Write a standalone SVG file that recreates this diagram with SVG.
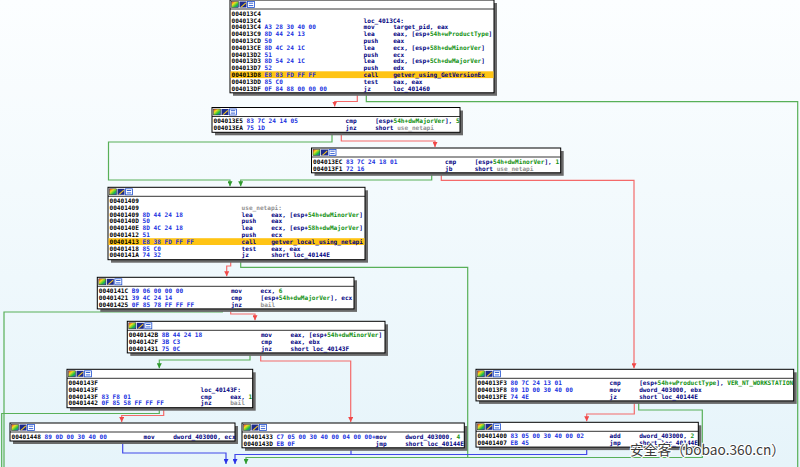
<svg xmlns="http://www.w3.org/2000/svg" width="800" height="467" viewBox="0 0 800 467">
<defs>
<linearGradient id="bg" x1="0" y1="0" x2="0" y2="1"><stop offset="0" stop-color="#FCFEFF"/><stop offset="1" stop-color="#E6F4FA"/></linearGradient>
<linearGradient id="rain" x1="0" y1="0" x2="1" y2="1"><stop offset="0" stop-color="#ff2020"/><stop offset="0.33" stop-color="#f0e020"/><stop offset="0.66" stop-color="#20c040"/><stop offset="1" stop-color="#2040ff"/></linearGradient>
<marker id="aR" viewBox="0 0 6 6" refX="6" refY="3" markerWidth="5" markerHeight="5" markerUnits="userSpaceOnUse" orient="auto"><path d="M0,0L6,3L0,6z" fill="#F04848"/></marker>
<marker id="aG" viewBox="0 0 6 6" refX="6" refY="3" markerWidth="5" markerHeight="5" markerUnits="userSpaceOnUse" orient="auto"><path d="M0,0L6,3L0,6z" fill="#2E9A2E"/></marker>
<marker id="aB" viewBox="0 0 6 6" refX="6" refY="3" markerWidth="5" markerHeight="5" markerUnits="userSpaceOnUse" orient="auto"><path d="M0,0L6,3L0,6z" fill="#2830E8"/></marker>
<g id="icons">
<rect x="1.5" y="1.5" width="7" height="6" fill="url(#rain)" stroke="#222" stroke-width="0.5"/>
<rect x="9.5" y="1.5" width="7" height="6" fill="#1c2a8a"/>
<path d="M10.5,7 L15.5,2.5 L16,3.5 L11.5,7.5z" fill="#f4c820"/>
<rect x="17.5" y="1.5" width="7" height="6" fill="#ffffff" stroke="#2050d0" stroke-width="0.8"/>
<path d="M18.8,3.2h4.4M18.8,5.6h4.4" stroke="#2050d0" stroke-width="0.9"/>
</g>
</defs>
<style>
.box{fill:#fff;stroke:#000;stroke-width:1}
.sh{fill:#6a6a6a}
.sep{stroke:#000;stroke-width:0.8}
.hl{fill:#FFC414}
text{font-family:"DejaVu Sans Mono","Liberation Mono",monospace;font-size:6.1px;font-weight:bold;fill:#000080}
.a{fill:#000}
.b{fill:#1830E0}
.g{fill:#109010}
.y{fill:#909090}
.e{fill:none;stroke-width:1.2}
.r{stroke:#F46A6A}
.gr{stroke:#58B058}
.bl{stroke:#4048E8}
.wm{font-family:"Noto Sans CJK SC","Noto Sans",sans-serif;font-size:14px;font-weight:normal;fill:#3c3c3c;stroke:#ffffff;stroke-width:2;paint-order:stroke}
</style>
<rect width="800" height="467" fill="url(#bg)"/>

<g id="edges">
<path class="e r" d="M357.3,93.8V101.5H334.7V106.5" marker-end="url(#aR)"/>
<path class="e gr" d="M366.3,93.8V101.7H797.7V467"/>
<path class="e r" d="M341.3,133V141H435V147" marker-end="url(#aR)"/>
<path class="e gr" d="M332,133V142H108.5V180H230V186.3" marker-end="url(#aG)"/>
<path class="e gr" d="M431.7,173.5V180H240.7V186.3" marker-end="url(#aG)"/>
<path class="e r" d="M441.3,173.5V180.3H634V368.3" marker-end="url(#aR)"/>
<path class="e r" d="M230.7,260.5V266H226.7V276.3" marker-end="url(#aR)"/>
<path class="e gr" d="M240.7,260.5V267.3H467.7V457.5"/>
<path class="e r" d="M230.7,309V314H255V320.3" marker-end="url(#aR)"/>
<path class="e gr" d="M222.3,309V312H4V467"/>
<path class="e r" d="M260.7,353V361H350.7V422" marker-end="url(#aR)"/>
<path class="e gr" d="M250,353V360H159.3V368.3" marker-end="url(#aG)"/>
<path class="e gr" d="M159.3,407.7V413.5H1.7V467"/>
<path class="e r" d="M163.7,407.7V415.5H121.7V422" marker-end="url(#aR)"/>
<path class="e r" d="M634.3,401V414H586.7V421.3" marker-end="url(#aR)"/>
<path class="e gr" d="M638.7,401V410H702.3V457.5H246V464" marker-end="url(#aG)"/>
<path class="e bl" d="M122.7,441V453H226V464" marker-end="url(#aB)"/>
<path class="e bl" d="M351,448V454.5"/>
<path class="e bl" d="M586.7,447V454.5H235V464" marker-end="url(#aB)"/>
</g>

<g id="blkA" transform="translate(230,0)">
<rect class="sh" x="3" y="3" width="264" height="92.8"/>
<rect class="box" x="0" y="0" width="264" height="92.8"/>
<use href="#icons"/>
<line class="sep" x1="0" y1="9" x2="264" y2="9"/>
<rect class="hl" x="0.5" y="71.3" width="263" height="6.8"/>
<text x="1.5" y="15.7" class="a">004013C4</text>
<text x="1.5" y="22.5"><tspan class="a">004013C4</tspan><tspan x="133.6">loc_4013C4:</tspan></text>
<text x="1.5" y="29.3"><tspan class="a">004013C4</tspan><tspan x="34.5" class="b">A3 28 30 40 00</tspan><tspan x="133.6">mov</tspan><tspan x="163.2">target_pid, eax</tspan></text>
<text x="1.5" y="36.1"><tspan class="a">004013C9</tspan><tspan x="34.5" class="b">8D 44 24 13</tspan><tspan x="133.6">lea</tspan><tspan x="163.2">eax, [esp+<tspan class="g">54h+wProductType</tspan>]</tspan></text>
<text x="1.5" y="42.9"><tspan class="a">004013CD</tspan><tspan x="34.5" class="b">50</tspan><tspan x="133.6">push</tspan><tspan x="163.2">eax</tspan></text>
<text x="1.5" y="49.7"><tspan class="a">004013CE</tspan><tspan x="34.5" class="b">8D 4C 24 1C</tspan><tspan x="133.6">lea</tspan><tspan x="163.2">ecx, [esp+<tspan class="g">58h+dwMinorVer</tspan>]</tspan></text>
<text x="1.5" y="56.5"><tspan class="a">004013D2</tspan><tspan x="34.5" class="b">51</tspan><tspan x="133.6">push</tspan><tspan x="163.2">ecx</tspan></text>
<text x="1.5" y="63.3"><tspan class="a">004013D3</tspan><tspan x="34.5" class="b">8D 54 24 1C</tspan><tspan x="133.6">lea</tspan><tspan x="163.2">edx, [esp+<tspan class="g">5Ch+dwMajorVer</tspan>]</tspan></text>
<text x="1.5" y="70.1"><tspan class="a">004013D7</tspan><tspan x="34.5" class="b">52</tspan><tspan x="133.6">push</tspan><tspan x="163.2">edx</tspan></text>
<text x="1.5" y="76.9"><tspan class="a">004013D8</tspan><tspan x="34.5" class="b">E8 83 FD FF FF</tspan><tspan x="133.6">call</tspan><tspan x="163.2">getver_using_GetVersionEx</tspan></text>
<text x="1.5" y="83.7"><tspan class="a">004013DD</tspan><tspan x="34.5" class="b">85 C0</tspan><tspan x="133.6">test</tspan><tspan x="163.2">eax, eax</tspan></text>
<text x="1.5" y="90.5"><tspan class="a">004013DF</tspan><tspan x="34.5" class="b">0F 84 88 00 00 00</tspan><tspan x="133.6">jz</tspan><tspan x="163.2">loc_401460</tspan></text>
</g>

<g id="blkB" transform="translate(212,107.5)">
<rect class="sh" x="3" y="3" width="248" height="24.8"/>
<rect class="box" x="0" y="0" width="248" height="24.8"/>
<use href="#icons"/>
<line class="sep" x1="0" y1="9" x2="248" y2="9"/>
<text x="1.5" y="15.7"><tspan class="a">004013E5</tspan><tspan x="34.5" class="b">83 7C 24 14 05</tspan><tspan x="133.6">cmp</tspan><tspan x="163.2">[esp+<tspan class="g">54h+dwMajorVer</tspan>], <tspan class="g">5</tspan></tspan></text>
<text x="1.5" y="22.5"><tspan class="a">004013EA</tspan><tspan x="34.5" class="b">75 1D</tspan><tspan x="133.6">jnz</tspan><tspan x="163.2">short <tspan class="y">use_netapi</tspan></tspan></text>
</g>

<g id="blkC" transform="translate(311.5,148)">
<rect class="sh" x="3" y="3" width="249.2" height="24.8"/>
<rect class="box" x="0" y="0" width="249.2" height="24.8"/>
<use href="#icons"/>
<line class="sep" x1="0" y1="9" x2="249.2" y2="9"/>
<text x="1.5" y="15.7"><tspan class="a">004013EC</tspan><tspan x="34.5" class="b">83 7C 24 18 01</tspan><tspan x="133.6">cmp</tspan><tspan x="163.2">[esp+<tspan class="g">54h+dwMinorVer</tspan>], <tspan class="g">1</tspan></tspan></text>
<text x="1.5" y="22.5"><tspan class="a">004013F1</tspan><tspan x="34.5" class="b">72 16</tspan><tspan x="133.6">jb</tspan><tspan x="163.2">short <tspan class="y">use_netapi</tspan></tspan></text>
</g>

<g id="blkD" transform="translate(108,187.3)">
<rect class="sh" x="3" y="3" width="257" height="72.4"/>
<rect class="box" x="0" y="0" width="257" height="72.4"/>
<use href="#icons"/>
<line class="sep" x1="0" y1="9" x2="257" y2="9"/>
<rect class="hl" x="0.5" y="50.9" width="256" height="6.8"/>
<text x="1.5" y="15.7" class="a">00401409</text>
<text x="1.5" y="22.5"><tspan class="a">00401409</tspan><tspan x="133.6" class="y">use_netapi:</tspan></text>
<text x="1.5" y="29.3"><tspan class="a">00401409</tspan><tspan x="34.5" class="b">8D 44 24 18</tspan><tspan x="133.6">lea</tspan><tspan x="163.2">eax, [esp+<tspan class="g">54h+dwMinorVer</tspan>]</tspan></text>
<text x="1.5" y="36.1"><tspan class="a">0040140D</tspan><tspan x="34.5" class="b">50</tspan><tspan x="133.6">push</tspan><tspan x="163.2">eax</tspan></text>
<text x="1.5" y="42.9"><tspan class="a">0040140E</tspan><tspan x="34.5" class="b">8D 4C 24 18</tspan><tspan x="133.6">lea</tspan><tspan x="163.2">ecx, [esp+<tspan class="g">58h+dwMajorVer</tspan>]</tspan></text>
<text x="1.5" y="49.7"><tspan class="a">00401412</tspan><tspan x="34.5" class="b">51</tspan><tspan x="133.6">push</tspan><tspan x="163.2">ecx</tspan></text>
<text x="1.5" y="56.5"><tspan class="a">00401413</tspan><tspan x="34.5" class="b">E8 38 FD FF FF</tspan><tspan x="133.6">call</tspan><tspan x="163.2">getver_local_using_netapi</tspan></text>
<text x="1.5" y="63.3"><tspan class="a">00401418</tspan><tspan x="34.5" class="b">85 C0</tspan><tspan x="133.6">test</tspan><tspan x="163.2">eax, eax</tspan></text>
<text x="1.5" y="70.1"><tspan class="a">0040141A</tspan><tspan x="34.5" class="b">74 32</tspan><tspan x="133.6">jz</tspan><tspan x="163.2">short loc_40144E</tspan></text>
</g>

<g id="blkE" transform="translate(97.3,277.3)">
<rect class="sh" x="3" y="3" width="256.7" height="31.6"/>
<rect class="box" x="0" y="0" width="256.7" height="31.6"/>
<use href="#icons"/>
<line class="sep" x1="0" y1="9" x2="256.7" y2="9"/>
<text x="1.5" y="15.7"><tspan class="a">0040141C</tspan><tspan x="34.5" class="b">B9 06 00 00 00</tspan><tspan x="133.6">mov</tspan><tspan x="163.2">ecx, <tspan class="g">6</tspan></tspan></text>
<text x="1.5" y="22.5"><tspan class="a">00401421</tspan><tspan x="34.5" class="b">39 4C 24 14</tspan><tspan x="133.6">cmp</tspan><tspan x="163.2">[esp+<tspan class="g">54h+dwMajorVer</tspan>], ecx</tspan></text>
<text x="1.5" y="29.3"><tspan class="a">00401425</tspan><tspan x="34.5" class="b">0F 85 78 FF FF FF</tspan><tspan x="133.6">jnz</tspan><tspan x="163.2" class="y">bail</tspan></text>
</g>

<g id="blkF" transform="translate(127.3,321.3)">
<rect class="sh" x="3" y="3" width="257.7" height="31.6"/>
<rect class="box" x="0" y="0" width="257.7" height="31.6"/>
<use href="#icons"/>
<line class="sep" x1="0" y1="9" x2="257.7" y2="9"/>
<text x="1.5" y="15.7"><tspan class="a">0040142B</tspan><tspan x="34.5" class="b">8B 44 24 18</tspan><tspan x="133.6">mov</tspan><tspan x="163.2">eax, [esp+<tspan class="g">54h+dwMinorVer</tspan>]</tspan></text>
<text x="1.5" y="22.5"><tspan class="a">0040142F</tspan><tspan x="34.5" class="b">3B C3</tspan><tspan x="133.6">cmp</tspan><tspan x="163.2">eax, ebx</tspan></text>
<text x="1.5" y="29.3"><tspan class="a">00401431</tspan><tspan x="34.5" class="b">75 0C</tspan><tspan x="133.6">jnz</tspan><tspan x="163.2">short loc_40143F</tspan></text>
</g>

<g id="blkG" transform="translate(67,369.3)">
<rect class="sh" x="3" y="3" width="185.7" height="38.4"/>
<rect class="box" x="0" y="0" width="185.7" height="38.4"/>
<use href="#icons"/>
<line class="sep" x1="0" y1="9" x2="185.7" y2="9"/>
<text x="1.5" y="15.7" class="a">0040143F</text>
<text x="1.5" y="22.5"><tspan class="a">0040143F</tspan><tspan x="133.6">loc_40143F:</tspan></text>
<text x="1.5" y="29.3"><tspan class="a">0040143F</tspan><tspan x="34.5" class="b">83 F8 01</tspan><tspan x="133.6">cmp</tspan><tspan x="163.2">eax, <tspan class="g">1</tspan></tspan></text>
<text x="1.5" y="36.1"><tspan class="a">00401442</tspan><tspan x="34.5" class="b">0F 85 58 FF FF FF</tspan><tspan x="133.6">jnz</tspan><tspan x="163.2" class="y">bail</tspan></text>
</g>

<g id="blkH" transform="translate(476,369.3)">
<rect class="sh" x="3" y="3" width="317.7" height="31.6"/>
<rect class="box" x="0" y="0" width="317.7" height="31.6"/>
<use href="#icons"/>
<line class="sep" x1="0" y1="9" x2="317.7" y2="9"/>
<text x="1.5" y="15.7"><tspan class="a">004013F3</tspan><tspan x="34.5" class="b">80 7C 24 13 01</tspan><tspan x="133.6">cmp</tspan><tspan x="163.2">[esp+<tspan class="g">54h+wProductType</tspan>], <tspan class="g">VER_NT_WORKSTATION</tspan></tspan></text>
<text x="1.5" y="22.5"><tspan class="a">004013F8</tspan><tspan x="34.5" class="b">89 1D 00 30 40 00</tspan><tspan x="133.6">mov</tspan><tspan x="163.2">dword_403000, ebx</tspan></text>
<text x="1.5" y="29.3"><tspan class="a">004013FE</tspan><tspan x="34.5" class="b">74 4E</tspan><tspan x="133.6">jz</tspan><tspan x="163.2">short loc_40144E</tspan></text>
</g>

<g id="blkI" transform="translate(10,423)">
<rect class="sh" x="3" y="3" width="225" height="18"/>
<rect class="box" x="0" y="0" width="225" height="18"/>
<use href="#icons"/>
<line class="sep" x1="0" y1="9" x2="225" y2="9"/>
<text x="1.5" y="15.7"><tspan class="a">00401448</tspan><tspan x="34.5" class="b">89 0D 00 30 40 00</tspan><tspan x="133.6">mov</tspan><tspan x="163.2">dword_403000, ecx</tspan></text>
</g>

<g id="blkJ" transform="translate(242,423)">
<rect class="sh" x="3" y="3" width="222.3" height="24.8"/>
<rect class="box" x="0" y="0" width="222.3" height="24.8"/>
<use href="#icons"/>
<line class="sep" x1="0" y1="9" x2="222.3" y2="9"/>
<text x="1.5" y="15.7"><tspan class="a">00401433</tspan><tspan x="34.5" class="b">C7 05 00 30 40 00 04 00 00+</tspan><tspan x="133.6">mov</tspan><tspan x="163.2">dword_403000, <tspan class="g">4</tspan></tspan></text>
<text x="1.5" y="22.5"><tspan class="a">0040143D</tspan><tspan x="34.5" class="b">EB 0F</tspan><tspan x="133.6">jmp</tspan><tspan x="163.2">short loc_40144E</tspan></text>
</g>

<g id="blkK" transform="translate(476,422.3)">
<rect class="sh" x="3" y="3" width="222.3" height="24.8"/>
<rect class="box" x="0" y="0" width="222.3" height="24.8"/>
<use href="#icons"/>
<line class="sep" x1="0" y1="9" x2="222.3" y2="9"/>
<text x="1.5" y="15.7"><tspan class="a">00401400</tspan><tspan x="34.5" class="b">83 05 00 30 40 00 02</tspan><tspan x="133.6">add</tspan><tspan x="163.2">dword_403000, <tspan class="g">2</tspan></tspan></text>
<text x="1.5" y="22.5"><tspan class="a">00401407</tspan><tspan x="34.5" class="b">EB 45</tspan><tspan x="133.6">jmp</tspan><tspan x="163.2">short loc_40144E</tspan></text>
</g>

<text class="wm" x="630" y="455" textLength="155" lengthAdjust="spacingAndGlyphs">安全客（bobao.360.cn）</text>
</svg>
